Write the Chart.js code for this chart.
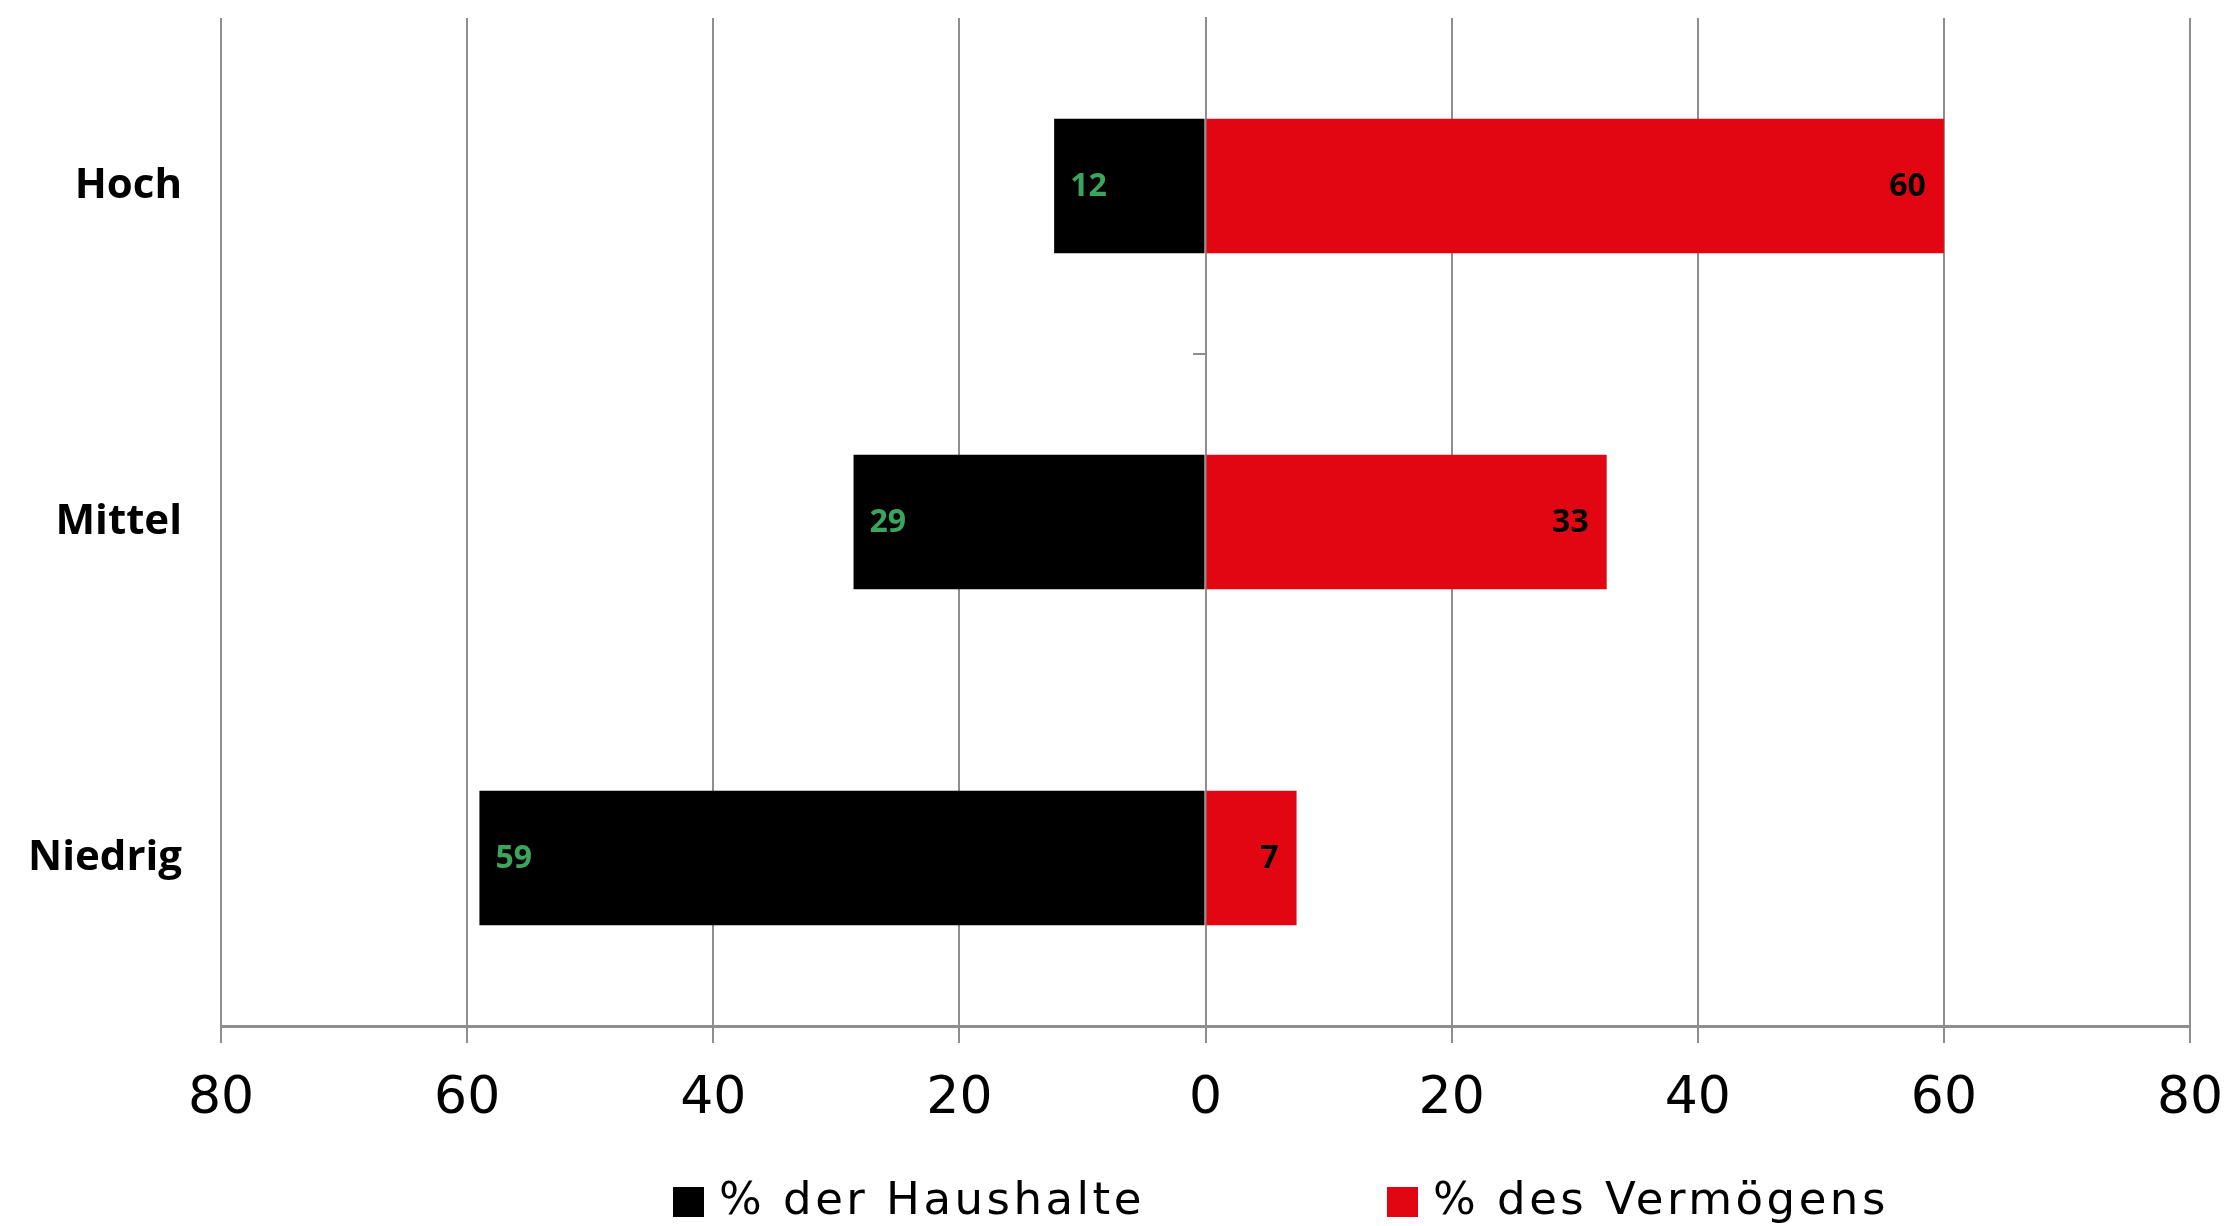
<!DOCTYPE html>
<html>
<head>
<meta charset="utf-8">
<script src="https://cdn.jsdelivr.net/npm/chart.js@4.4.1/dist/chart.umd.min.js"></script>
<style>
  html, body { margin: 0; padding: 0; background: #fff; }
  #wrap { width: 2234px; height: 1226px; position: relative; }
</style>
</head>
<body>
<div id="wrap"><canvas id="chartVermoegen"></canvas></div>
<script>
const kategorien = ["Hoch", "Mittel", "Niedrig"];
const anteilHaushalte = [12.3, 28.6, 59.0];
const anteilVermoegen = [60.0, 32.6, 7.4];
const xTickLabels = ["80", "60", "40", "20", "0", "20", "40", "60", "80"];
const serienNamen = ["% der Haushalte", "% des Vermögens"];

const GRAU = "#8e8e8e";
const ROT = "#E20613";
const GRUEN = "#3BA55C";
const SCHRIFT = "'Open Sans', 'Noto Sans', sans-serif";
const BREIT = "'DejaVu Sans', sans-serif";

const ctx = document.getElementById("chartVermoegen").getContext("2d");

// Werte in den Balken
const wertePlugin = {
  id: "werte",
  afterDatasetsDraw(chart) {
    const c = chart.ctx;
    c.save();
    c.font = `700 32px ${SCHRIFT}`;
    c.textBaseline = "middle";
    chart.data.datasets.forEach((ds, i) => {
      const meta = chart.getDatasetMeta(i);
      meta.data.forEach((bar, j) => {
        const txt = String(Math.round(Math.abs(ds.data[j])));
        if (i === 0) {
          c.fillStyle = GRUEN;
          c.textAlign = "left";
          c.fillText(txt, bar.x + 16, bar.y + 1);
        } else {
          c.fillStyle = "#000";
          c.textAlign = "right";
          c.fillText(txt, bar.x - 18, bar.y + 1);
        }
      });
    });
    c.restore();
  }
};

// Legende unten
const legendePlugin = {
  id: "legende",
  afterDraw(chart) {
    const c = chart.ctx;
    const startX = [673, 1387];
    const mitteY = 1202;
    c.save();
    c.font = `400 45px ${BREIT}`;
    c.letterSpacing = "3.5px";
    c.textBaseline = "middle";
    c.textAlign = "left";
    chart.data.datasets.forEach((ds, i) => {
      c.fillStyle = ds.backgroundColor;
      c.fillRect(startX[i], mitteY - 15, 31, 30);
      c.fillStyle = "#000";
      c.fillText(ds.label, startX[i] + 46, mitteY);
    });
    c.restore();
  }
};

new Chart(ctx, {
  type: "bar",
  data: {
    labels: kategorien,
    datasets: [
      {
        label: serienNamen[0],
        data: anteilHaushalte.map(v => -v),
        backgroundColor: "#000000",
        barPercentage: 0.4,
        categoryPercentage: 1.0
      },
      {
        label: serienNamen[1],
        data: anteilVermoegen,
        backgroundColor: ROT,
        barPercentage: 0.4,
        categoryPercentage: 1.0
      }
    ]
  },
  options: {
    indexAxis: "y",
    responsive: true,
    maintainAspectRatio: false,
    animation: false,
    layout: { padding: { top: 18, right: 44, bottom: 90, left: 0 } },
    plugins: {
      legend: { display: false },
      tooltip: { enabled: false }
    },
    scales: {
      x: {
        stacked: true,
        min: -80,
        max: 80,
        ticks: {
          stepSize: 20,
          color: "#000",
          padding: 25,
          font: { family: BREIT, size: 52, weight: 400 },
          callback: (v, i) => xTickLabels[i]
        },
        grid: { color: GRAU, lineWidth: 2, tickLength: 17 },
        border: { color: GRAU, width: 3 },
        afterFit: s => { s.height = 110; s.paddingLeft = 0; s.paddingRight = 0; }
      },
      y: {
        stacked: true,
        ticks: {
          color: "#000",
          padding: 39,
          font: { family: SCHRIFT, size: 42, weight: 700 }
        },
        grid: { display: false, drawTicks: false },
        border: { display: false },
        afterFit: s => { s.width = 221; s.paddingTop = 0; s.paddingBottom = 0; }
      },
      y2: {
        type: "category",
        labels: kategorien,
        position: { x: 0 },
        offset: true,
        z: 1,
        ticks: { display: false },
        grid: {
          offset: true,
          drawOnChartArea: false,
          tickLength: 12,
          lineWidth: 2,
          color: c => (c.index === 1 ? GRAU : "rgba(0,0,0,0)")
        },
        border: { display: true, color: GRAU, width: 2 },
        afterFit: s => { s.paddingTop = 0; s.paddingBottom = 0; }
      }
    }
  },
  plugins: [wertePlugin, legendePlugin]
});
</script>
</body>
</html>
